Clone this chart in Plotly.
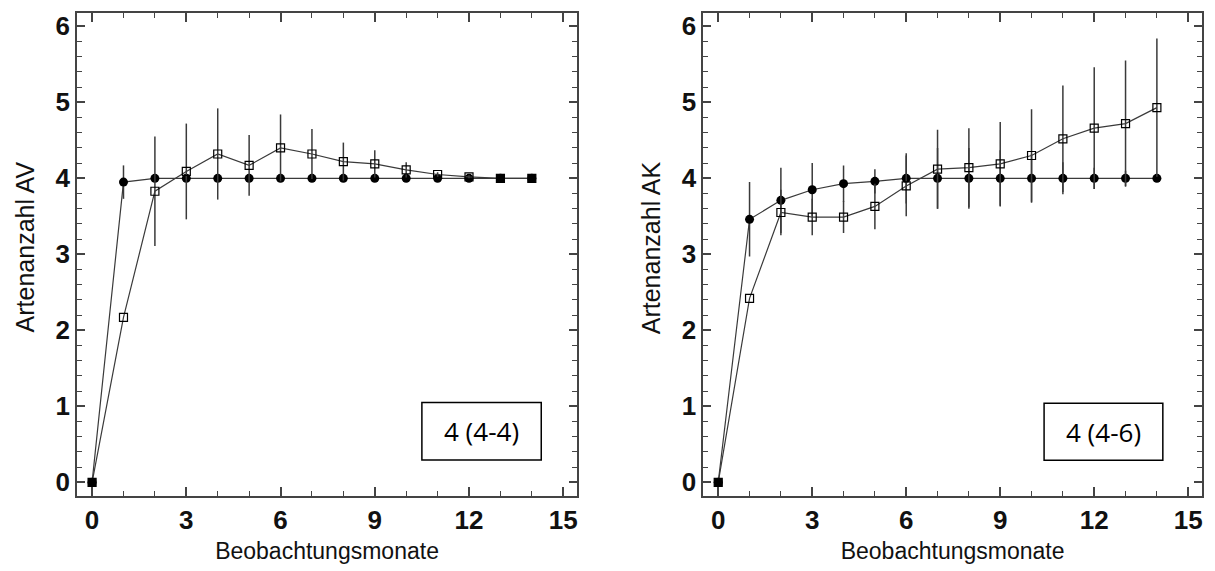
import plotly.graph_objects as go

months = list(range(15))

# Left panel: Artenanzahl AV
av_circle = [0, 3.95, 4.0, 4.0, 4.0, 4.0, 4.0, 4.0, 4.0, 4.0, 4.0, 4.0, 4.0, 4.0, 4.0]
av_circle_err = [0, 0.22, 0, 0, 0, 0, 0, 0, 0, 0, 0, 0, 0, 0, 0]
av_square = [0, 2.17, 3.83, 4.09, 4.32, 4.17, 4.40, 4.32, 4.22, 4.19, 4.11, 4.05, 4.02, 4.0, 4.0]
av_square_err = [0, 0, 0.72, 0.63, 0.60, 0.40, 0.44, 0.33, 0.25, 0.18, 0.10, 0.03, 0.02, 0, 0]

# Right panel: Artenanzahl AK
ak_circle = [0, 3.46, 3.71, 3.85, 3.93, 3.96, 4.0, 4.0, 4.0, 4.0, 4.0, 4.0, 4.0, 4.0, 4.0]
ak_circle_err = [0, 0.49, 0.43, 0.35, 0.24, 0.16, 0.33, 0.40, 0.40, 0.37, 0.32, 0.21, 0.14, 0.10, 0.05]
ak_square = [0, 2.42, 3.55, 3.49, 3.49, 3.63, 3.90, 4.12, 4.14, 4.19, 4.30, 4.52, 4.66, 4.72, 4.93]
ak_square_err = [0, 0, 0.30, 0.24, 0.21, 0.30, 0.40, 0.52, 0.52, 0.55, 0.61, 0.70, 0.80, 0.83, 0.91]

x_title = "Beobachtungsmonate"
y_titles = ["Artenanzahl AV", "Artenanzahl AK"]
box_labels = ["4 (4-4)", "4 (4-6)"]

LINE = "#3a3a3a"
INK = "#111111"

fig = go.Figure()


def add_panel(xa, ya, circ, circ_err, sq, sq_err):
    fig.add_trace(go.Scatter(
        x=months, y=circ, mode="lines+markers",
        line=dict(color=LINE, width=1.2),
        marker=dict(symbol="circle", size=9, color="black"),
        error_y=dict(type="data", array=circ_err, visible=True, color=LINE, thickness=1.5, width=0),
        xaxis=xa, yaxis=ya, showlegend=False, cliponaxis=False))
    symbols = ["square" if abs(a - b) < 1e-9 else "square-open" for a, b in zip(sq, circ)]
    fig.add_trace(go.Scatter(
        x=months, y=sq, mode="lines+markers",
        line=dict(color=LINE, width=1.2),
        marker=dict(symbol=symbols, size=8, color="black", line=dict(color="black", width=1.2)),
        error_y=dict(type="data", array=sq_err, visible=True, color=LINE, thickness=1.5, width=0),
        xaxis=xa, yaxis=ya, showlegend=False, cliponaxis=False))


add_panel("x", "y", av_circle, av_circle_err, av_square, av_square_err)
add_panel("x2", "y2", ak_circle, ak_circle_err, ak_square, ak_square_err)

tickfont = dict(family="Arial", size=26, color=INK)
titlefont = dict(family="Arial", size=23, color=INK)
ytitlefont = dict(family="Arial", size=25, color=INK)

xcommon = dict(
    range=[-0.48, 15.44], tickmode="array", tickvals=[0, 3, 6, 9, 12, 15],
    ticktext=["<b>0</b>", "<b>3</b>", "<b>6</b>", "<b>9</b>", "<b>12</b>", "<b>15</b>"],
    ticks="inside", ticklen=9, tickwidth=1.5, tickcolor="#444",
    minor=dict(dtick=1, tick0=0, ticks="inside", ticklen=5, tickwidth=1.2, tickcolor="#444"),
    showline=True, linecolor="#444", linewidth=1.5, mirror="ticks",
    showgrid=False, zeroline=False, tickfont=tickfont,
    title=dict(text=x_title, font=titlefont, standoff=9),
)
ycommon = dict(
    range=[-0.18, 6.175], tickmode="array", tickvals=[0, 1, 2, 3, 4, 5, 6],
    ticktext=["<b>%d</b>" % v for v in range(7)],
    ticks="inside", ticklen=8, tickwidth=1.5, tickcolor="#444",
    minor=dict(dtick=0.2, tick0=0, ticks="inside", ticklen=5, tickwidth=1.2, tickcolor="#444"),
    showline=True, linecolor="#444", linewidth=1.5, mirror="ticks",
    showgrid=False, zeroline=False, tickfont=tickfont,
)

fig.update_layout(
    width=1215, height=571,
    margin=dict(l=77, r=11, t=12, b=75),
    paper_bgcolor="white", plot_bgcolor="white",
    xaxis=dict(domain=[0, 0.4445], anchor="y", **xcommon),
    yaxis=dict(domain=[0, 1], anchor="x", **ycommon),
    xaxis2=dict(domain=[0.5566, 1.0], anchor="y2", **xcommon),
    yaxis2=dict(domain=[0, 1], anchor="x2", **ycommon),
    shapes=[
        dict(type="rect", xref="x", yref="y", x0=10.5, x1=14.3, y0=0.295, y1=1.05,
             line=dict(color="black", width=1.5), fillcolor="white", layer="above"),
        dict(type="rect", xref="x2", yref="y2", x0=10.4, x1=14.19, y0=0.29, y1=1.04,
             line=dict(color="black", width=1.5), fillcolor="white", layer="above"),
    ],
    annotations=[
        dict(x=12.4, y=0.67, xref="x", yref="y", text=box_labels[0], showarrow=False,
             font=dict(family="Open Sans", size=26, color="black")),
        dict(x=12.3, y=0.665, xref="x2", yref="y2", text=box_labels[1], showarrow=False,
             font=dict(family="Open Sans", size=26, color="black")),
        dict(x=-0.0461, y=0.515, xref="paper", yref="paper", text=y_titles[0], showarrow=False,
             textangle=-90, xanchor="center", yanchor="middle", font=ytitlefont),
        dict(x=0.5102, y=0.515, xref="paper", yref="paper", text=y_titles[1], showarrow=False,
             textangle=-90, xanchor="center", yanchor="middle", font=ytitlefont),
    ],
)

fig.write_html("out.html")
